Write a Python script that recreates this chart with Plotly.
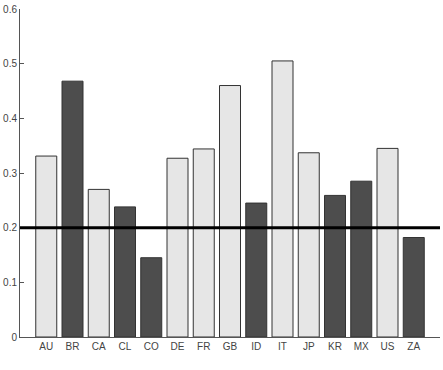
import plotly.graph_objects as go

countries = ["AU", "BR", "CA", "CL", "CO", "DE", "FR", "GB", "ID", "IT", "JP", "KR", "MX", "US", "ZA"]
values = [0.331, 0.468, 0.270, 0.238, 0.145, 0.327, 0.344, 0.460, 0.245, 0.505, 0.337, 0.259, 0.285, 0.345, 0.182]
is_dark = [0, 1, 0, 1, 1, 0, 0, 0, 1, 0, 0, 1, 1, 0, 1]
threshold = 0.2
y_ticks = [0, 0.1, 0.2, 0.3, 0.4, 0.5, 0.6]
y_tick_labels = ["0", "0.1", "0.2", "0.3", "0.4", "0.5", "0.6"]

colors = ["#4d4d4d" if d else "#e6e6e6" for d in is_dark]

fig = go.Figure()
fig.add_trace(go.Bar(
    x=list(range(len(countries))), y=values,
    marker=dict(color=colors, line=dict(color="#333333", width=1)),
    width=0.8,
    showlegend=False,
))
fig.add_shape(type="line", xref="paper", yref="y", x0=0, x1=1, y0=threshold, y1=threshold,
              line=dict(color="black", width=3))

fig.update_layout(
    width=443, height=370,
    margin=dict(l=20, r=3, t=6, b=33),
    plot_bgcolor="white", paper_bgcolor="white",
    font=dict(family="Liberation Sans, Arial, sans-serif", size=10, color="#333333"),
    xaxis=dict(
        range=[-1, 15], tickmode="array", tickvals=list(range(len(countries))), ticktext=countries,
        showgrid=False, zeroline=False, showline=True, linecolor="#555555", linewidth=1,
        ticks="", tickfont=dict(size=10, color="#444444"),
    ),
    yaxis=dict(
        range=[0, 0.6], tickmode="array", tickvals=y_ticks, ticktext=y_tick_labels,
        showgrid=False, zeroline=False, showline=True, linecolor="#555555", linewidth=1,
        ticks="inside", ticklen=4, tickcolor="#555555", tickfont=dict(size=10, color="#444444"),
    ),
)

fig.write_html("out.html")
